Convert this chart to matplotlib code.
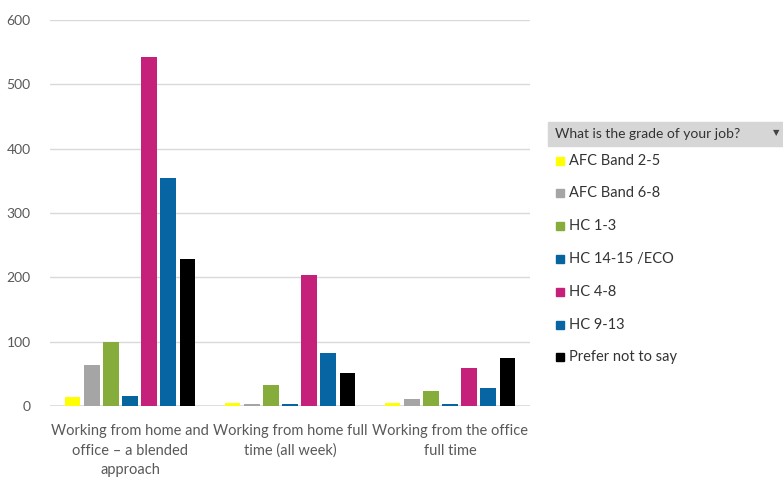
import numpy as np
import matplotlib.pyplot as plt
from matplotlib.patches import Rectangle

# work pattern categories
categories = ["Working from home and\noffice \u2013 a blended\napproach",
              "Working from home full\ntime (all week)",
              "Working from the office\nfull time"]

grades = ["AFC Band 2-5", "AFC Band 6-8", "HC 1-3", "HC 14-15 /ECO",
          "HC 4-8", "HC 9-13", "Prefer not to say"]

afc_2_5 = [14, 4, 4]
afc_6_8 = [63, 3, 11]
hc_1_3 = [99, 33, 23]
hc_14_15 = [16, 3, 3]
hc_4_8 = [543, 204, 59]
hc_9_13 = [355, 83, 28]
prefer_not = [229, 51, 74]

series = [afc_2_5, afc_6_8, hc_1_3, hc_14_15, hc_4_8, hc_9_13, prefer_not]
colors = ["#FFFF00", "#A5A5A5", "#86AD3C", "#06649F", "#C5207A", "#0865A3", "#000000"]

W, H = 783, 478
fig = plt.figure(figsize=(W / 100, H / 100), dpi=100)
plt.rcParams['font.family'] = ['Lato', 'DejaVu Sans']

# plot area in pixels: x 50..530, y 20..406
ax = fig.add_axes([50 / W, 1 - 406 / H, 480 / W, 386 / H])

x = np.arange(len(categories))
pitch = 0.119
width = 0.095
for i, (vals, c) in enumerate(zip(series, colors)):
    ax.bar(x + (i - 3) * pitch, vals, width=width, color=c, zorder=3)

ax.set_xlim(-0.5, 2.5)
ax.set_ylim(0, 600)
ax.set_yticks(range(0, 601, 100))
ax.yaxis.grid(True, color="#D9D9D9", linewidth=1, zorder=0)
for s in ax.spines.values():
    s.set_visible(False)
ax.axhline(0, color="#D9D9D9", linewidth=1.2, zorder=2)
ax.tick_params(axis='both', length=0, colors="#595959", labelsize=10)
ax.tick_params(axis='y', pad=14)
ax.set_xticks(x)
ax.set_xticklabels(categories, linespacing=1.5, color="#595959", fontsize=10.5)
ax.tick_params(axis='x', pad=13)

# legend panel on the right
def fy(py):
    return 1 - py / H

fig.patches.append(Rectangle((548 / W, fy(146)), (W - 548) / W, 24 / H,
                             transform=fig.transFigure, color="#D6D6D6", zorder=0))
fig.text(555 / W, fy(134), "What is the grade of your job?", fontsize=10,
         color="#333333", va='center', ha='left')
fig.text(776 / W, fy(133), "\u25bc", fontsize=6, color="#444444",
         va='center', ha='center', family=['DejaVu Sans'])

item_y = [161, 193, 226, 259, 292, 325, 357]
for g, c, py in zip(grades, colors, item_y):
    fig.patches.append(Rectangle((556 / W, fy(py + 4)), 8 / W, 8 / H,
                                 transform=fig.transFigure, color=c))
    fig.text(569 / W, fy(py), g, fontsize=10.5, color="#333333", va='center', ha='left')

fig.savefig("out.png", dpi=100)
